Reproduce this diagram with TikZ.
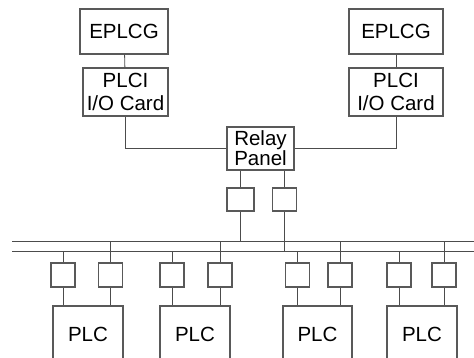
\documentclass[tikz,border=0pt]{standalone}
\usepackage{fontspec}
\setmainfont{Liberation Sans}

\begin{document}
\begin{tikzpicture}[x=1pt, y=-1pt]
\tikzset{boite/.style={draw=black!65, line width=1.2pt, inner sep=0pt, align=center, font=\fontsize{20.5}{23}\selectfont},
  petit/.style={draw=black!65, line width=1.2pt, minimum width=24pt, minimum height=23pt, inner sep=0pt},
  fil/.style={draw=black!70, line width=0.8pt}}
\useasboundingbox (0,0) rectangle (474,358);
\clip (0,0) rectangle (474,358);
\node[boite, minimum width=88pt, minimum height=45pt] (G1) at (124,31.5) {EPLCG};
\node[boite, minimum width=94pt, minimum height=45pt] (G2) at (396,31.5) {EPLCG};
\node[boite, minimum width=85pt, minimum height=48pt] (C1) at (125.5,92) {PLCI\\I/O Card};
\node[boite, minimum width=94pt, minimum height=48pt] (C2) at (396,92) {PLCI\\I/O Card};
\node[boite, minimum width=67pt, minimum height=43pt, font=\fontsize{20.5}{20}\selectfont] (R) at (260.5,148.5) {Relay\\Panel};
\node[petit, minimum width=27pt] (S1) at (240.5,199.5) {};
\node[petit] (S2) at (284.5,199.5) {};
\coordinate (BA1) at (12,241);
\coordinate (BA2) at (474,241);
\coordinate (BB1) at (12,251);
\coordinate (BB2) at (474,251);
\node[petit, minimum height=24pt] (T1) at (63,275) {};
\node[petit, minimum height=24pt] (T2) at (110.5,275) {};
\node[petit, minimum height=24pt] (T3) at (172,275) {};
\node[petit, minimum height=24pt] (T4) at (220,275) {};
\node[petit, minimum height=24pt] (T5) at (297.5,275) {};
\node[petit, minimum height=24pt] (T6) at (340,275) {};
\node[petit, minimum height=24pt] (T7) at (399,275) {};
\node[petit, minimum height=24pt] (T8) at (444,275) {};
\node[boite, minimum width=70pt, minimum height=56pt] (P1) at (88,334) {PLC};
\node[boite, minimum width=70pt, minimum height=56pt] (P2) at (195,334) {PLC};
\node[boite, minimum width=69pt, minimum height=56pt] (P3) at (317.5,334) {PLC};
\node[boite, minimum width=70pt, minimum height=56pt] (P4) at (422,334) {PLC};
\draw[fil] (G1) -- (C1);
\draw[fil] (G2) -- (C2);
\draw[fil] (C1.south) |- (R.west);
\draw[fil] (C2.south) |- (R.east);
\draw[fil] (S1.north) -- (S1.north |- R.south);
\draw[fil] (S2.north) -- (S2.north |- R.south);
\draw[fil] (BA1) -- (BA2);
\draw[fil] (BB1) -- (BB2);
\draw[fil] (S1.south) -- (S1.south |- BA1);
\draw[fil] (S2.south) -- (S2.south |- BB1);
\draw[fil] (T1.north) -- (T1.north |- BB1);
\draw[fil] (T2.north) -- (T2.north |- BA1);
\draw[fil] (T3.north) -- (T3.north |- BB1);
\draw[fil] (T4.north) -- (T4.north |- BA1);
\draw[fil] (T5.north) -- (T5.north |- BB1);
\draw[fil] (T6.north) -- (T6.north |- BA1);
\draw[fil] (T7.north) -- (T7.north |- BB1);
\draw[fil] (T8.north) -- (T8.north |- BA1);
\draw[fil] (T1.south) -- (T1.south |- P1.north);
\draw[fil] (T2.south) -- (T2.south |- P1.north);
\draw[fil] (T3.south) -- (T3.south |- P2.north);
\draw[fil] (T4.south) -- (T4.south |- P2.north);
\draw[fil] (T5.south) -- (T5.south |- P3.north);
\draw[fil] (T6.south) -- (T6.south |- P3.north);
\draw[fil] (T7.south) -- (T7.south |- P4.north);
\draw[fil] (T8.south) -- (T8.south |- P4.north);
\end{tikzpicture}
\end{document}
